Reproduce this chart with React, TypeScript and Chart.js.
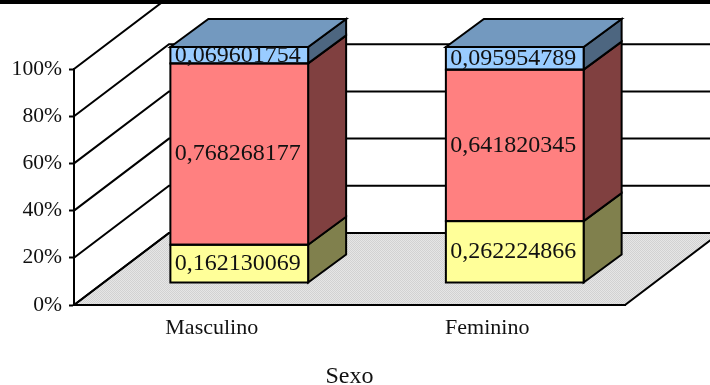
import React, { useEffect, useRef } from "react";
import { Chart, registerables } from "chart.js";

Chart.register(...registerables);

const categories = ["Masculino", "Feminino"];
const lowSeries = [0.162130069, 0.262224866];
const midSeries = [0.768268177, 0.641820345];
const highSeries = [0.069601754, 0.095954789];
const yTicks = [0, 0.2, 0.4, 0.6, 0.8, 1];
const axisTitle = "Sexo";

const frontColors = ["#FFFF99", "#FF8080", "#99CCFF"];
const sideColors = ["#80804D", "#804040", "#4D6680"];
const topColor = "#7399BF";
const SERIF = "'Liberation Serif', serif";

const WALL_DX = 95;
const WALL_DY = 72;
const BAR_DX = 27.5;
const BAR_DY = 22;
const DEPTH_DX = 38;
const DEPTH_DY = 28;
const LINE = 2;

function makeFloorPattern(ctx: CanvasRenderingContext2D) {
  const c = document.createElement("canvas");
  c.width = 2;
  c.height = 2;
  const p = c.getContext("2d")!;
  p.fillStyle = "#e6e6e6";
  p.fillRect(0, 0, 2, 2);
  p.fillStyle = "#d2d2d2";
  p.fillRect(0, 0, 1, 1);
  p.fillRect(1, 1, 1, 1);
  return ctx.createPattern(c, "repeat")!;
}

const box3d = {
  id: "box3d",
  beforeDatasetsDraw(chart: any) {
    const { ctx, chartArea, scales } = chart;
    const { left, right, bottom } = chartArea;
    const y = scales.y;
    ctx.save();
    // floor
    ctx.beginPath();
    ctx.moveTo(left, bottom);
    ctx.lineTo(left + WALL_DX, bottom - WALL_DY);
    ctx.lineTo(right + WALL_DX, bottom - WALL_DY);
    ctx.lineTo(right, bottom);
    ctx.closePath();
    ctx.fillStyle = makeFloorPattern(ctx);
    ctx.fill();
    ctx.lineWidth = LINE;
    ctx.strokeStyle = "#000";
    ctx.stroke();
    // wall grid lines
    yTicks.forEach((t) => {
      const py = y.getPixelForValue(t);
      ctx.beginPath();
      ctx.moveTo(left, py);
      ctx.lineTo(left + WALL_DX, py - WALL_DY);
      ctx.lineTo(right + WALL_DX, py - WALL_DY);
      ctx.stroke();
    });
    // side and top faces, through the bar elements
    ctx.translate(BAR_DX, -BAR_DY);
    ctx.lineWidth = LINE;
    chart.data.datasets.forEach((_: any, di: number) => {
      chart.getDatasetMeta(di).data.forEach((bar: any) => {
        const r = bar.x + bar.width / 2;
        const l = bar.x - bar.width / 2;
        ctx.beginPath();
        ctx.moveTo(r, bar.base);
        ctx.lineTo(r + DEPTH_DX, bar.base - DEPTH_DY);
        ctx.lineTo(r + DEPTH_DX, bar.y - DEPTH_DY);
        ctx.lineTo(r, bar.y);
        ctx.closePath();
        ctx.fillStyle = sideColors[di];
        ctx.fill();
        ctx.stroke();
        if (di === chart.data.datasets.length - 1) {
          ctx.beginPath();
          ctx.moveTo(l, bar.y);
          ctx.lineTo(l + DEPTH_DX, bar.y - DEPTH_DY);
          ctx.lineTo(r + DEPTH_DX, bar.y - DEPTH_DY);
          ctx.lineTo(r, bar.y);
          ctx.closePath();
          ctx.fillStyle = topColor;
          ctx.fill();
          ctx.stroke();
        }
      });
    });
    ctx.restore();
    // front faces are drawn by Chart.js, shifted into the depth of the floor
    ctx.save();
    ctx.translate(BAR_DX, -BAR_DY);
  },
  afterDatasetsDraw(chart: any) {
    const { ctx } = chart;
    ctx.restore();
    ctx.save();
    ctx.translate(BAR_DX, -BAR_DY);
    // single outline around each front face, so shared edges are not doubled
    ctx.strokeStyle = "#000";
    ctx.lineWidth = LINE;
    chart.data.datasets.forEach((_: any, di: number) => {
      chart.getDatasetMeta(di).data.forEach((bar: any) => {
        ctx.strokeRect(bar.x - bar.width / 2, bar.y, bar.width, bar.base - bar.y);
      });
    });
    ctx.fillStyle = "#111";
    ctx.font = `24px ${SERIF}`;
    ctx.textAlign = "center";
    ctx.textBaseline = "middle";
    chart.data.datasets.forEach((ds: any, di: number) => {
      chart.getDatasetMeta(di).data.forEach((bar: any, i: number) => {
        const text = String(ds.data[i]).replace(".", ",");
        ctx.fillText(text, bar.x - 1.5, (bar.y + bar.base) / 2);
      });
    });
    ctx.restore();
    // window band along the top of the image
    ctx.fillStyle = "#000";
    ctx.fillRect(0, 0, chart.width, 4);
  },
};

export default function App() {
  const ref = useRef<HTMLCanvasElement>(null);
  useEffect(() => {
    const mk = (label: string, data: number[], i: number) => ({
      label,
      data,
      backgroundColor: frontColors[i],
      borderWidth: 0,
      clip: false as any,
      barPercentage: 1,
      categoryPercentage: 0.5,
    });
    const chart = new Chart(ref.current!, {
      type: "bar",
      data: {
        labels: categories,
        datasets: [
          mk("Baixo", lowSeries, 0),
          mk("Médio", midSeries, 1),
          mk("Alto", highSeries, 2),
        ],
      },
      plugins: [box3d],
      options: {
        responsive: false,
        devicePixelRatio: 1,
        animation: false,
        layout: { padding: { left: 0, right: 85, top: 69, bottom: 0 } },
        plugins: { legend: { display: false }, tooltip: { enabled: false } },
        scales: {
          x: {
            stacked: true,
            afterFit: (s: any) => { s.height = 80; },
            grid: { display: false, drawTicks: false },
            border: { display: true, color: "#000", width: LINE },
            ticks: { color: "#111", font: { family: SERIF, size: 22 }, padding: 10, maxRotation: 0 },
            title: { display: true, text: axisTitle, color: "#111", font: { family: SERIF, size: 24 }, padding: { top: 0, bottom: -6 } },
          },
          y: {
            stacked: true,
            min: 0,
            max: 1,
            afterFit: (s: any) => { s.width = 74; },
            afterBuildTicks: (s: any) => { s.ticks = yTicks.map((value) => ({ value })); },
            grid: { drawOnChartArea: false, color: "#000", tickLength: 5, tickWidth: LINE },
            border: { display: true, color: "#000", width: LINE },
            ticks: { color: "#111", font: { family: SERIF, size: 21.6 }, padding: 7, callback: (v: any) => `${Math.round(v * 100)}%` },
          },
        },
      },
    } as any);
    return () => chart.destroy();
  }, []);
  return (
    <div style={{ position: "absolute", left: 0, top: 0 }}>
      <canvas ref={ref} width={710} height={385} style={{ display: "block" }} />
    </div>
  );
}
